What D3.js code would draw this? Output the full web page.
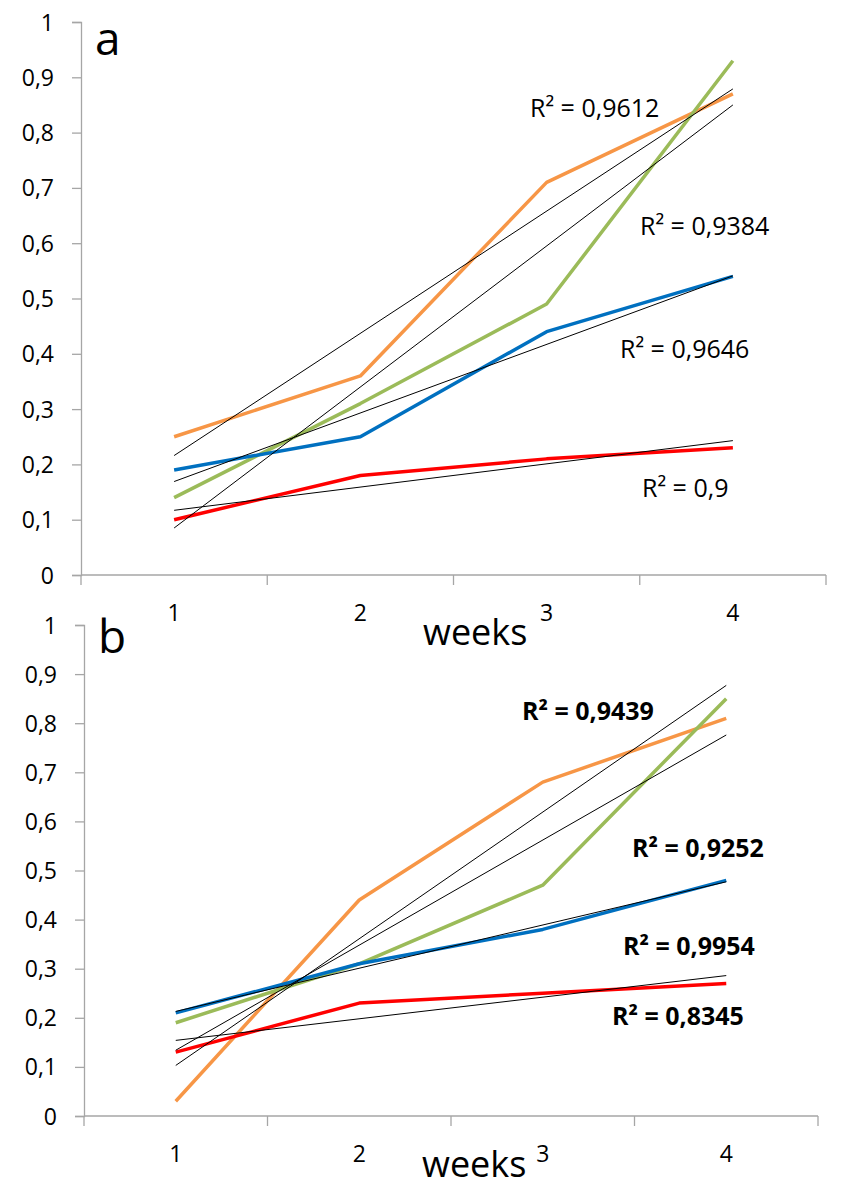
<!DOCTYPE html>
<html lang="en">
<head>
<meta charset="UTF-8">
<title>Weekly growth with linear trends</title>
<script src="https://cdn.jsdelivr.net/npm/d3@7/dist/d3.min.js"></script>
<style>
    body { margin: 0; background: #fff; }
    svg { display: block; font-family: "Open Sans", sans-serif; }
    .axis path, .axis line { stroke: #a6a6a6; stroke-width: 1.3px; }
    .axis text { fill: #000; font-size: 23px; font-family: "Open Sans", sans-serif; }
</style>
</head>
<body>
<svg id="chart" width="847" height="1189"></svg>
<script>
    // data
    var weeks = [1, 2, 3, 4];
    var yTicks = [0, 0.1, 0.2, 0.3, 0.4, 0.5, 0.6, 0.7, 0.8, 0.9, 1];

    // panel a
    var aOrange = [0.25, 0.36, 0.71, 0.87];
    var aGreen = [0.14, 0.31, 0.49, 0.93];
    var aBlue = [0.19, 0.25, 0.44, 0.54];
    var aRed = [0.10, 0.18, 0.21, 0.23];
    var aLabels = ["R² = 0,9612", "R² = 0,9384", "R² = 0,9646", "R² = 0,9"];

    // panel b
    var bOrange = [0.03, 0.44, 0.68, 0.81];
    var bGreen = [0.19, 0.31, 0.47, 0.85];
    var bBlue = [0.21, 0.31, 0.38, 0.48];
    var bRed = [0.13, 0.23, 0.25, 0.27];
    var bLabels = ["R² = 0,9439", "R² = 0,9252", "R² = 0,9954", "R² = 0,8345"];

    var colors = { orange: "#f79646", green: "#9bbb59", blue: "#0070c0", red: "#ff0000" };

    var comma = d3.formatLocale({ decimal: ",", thousands: ".", grouping: [3], currency: ["", ""] }).format("~g");

    var panels = [
        {
            letter: "a", left: 81, right: 826, top: 22, bottom: 575, bold: false,
            letterPos: [95, 55], weeksPos: [423, 645],
            series: [[aOrange, colors.orange], [aGreen, colors.green], [aBlue, colors.blue], [aRed, colors.red]],
            labels: aLabels,
            labelPos: [[530, 117], [640, 235], [620, 358], [642, 497]]
        },
        {
            letter: "b", left: 84, right: 818, top: 625, bottom: 1116, bold: true,
            letterPos: [98, 653], weeksPos: [422, 1177],
            series: [[bOrange, colors.orange], [bGreen, colors.green], [bBlue, colors.blue], [bRed, colors.red]],
            labels: bLabels,
            labelPos: [[522, 720], [632, 857], [623, 955], [612, 1025]]
        }
    ];

    var svg = d3.select("#chart");

    function fit(values) {
        var mx = d3.mean(weeks), my = d3.mean(values);
        var num = d3.sum(weeks, function (w, i) { return (w - mx) * (values[i] - my); });
        var den = d3.sum(weeks, function (w) { return (w - mx) * (w - mx); });
        var slope = num / den;
        return function (w) { return my + slope * (w - mx); };
    }

    panels.forEach(function (p) {
        var g = svg.append("g");

        var x = d3.scaleBand().domain(weeks).range([p.left, p.right]).paddingInner(0).paddingOuter(0);
        var cx = function (w) { return x(w) + x.bandwidth() / 2; };
        var y = d3.scaleLinear().domain([0, 1]).range([p.bottom, p.top]);

        // y axis
        g.append("g")
            .attr("class", "axis")
            .attr("transform", "translate(" + p.left + ",0)")
            .call(d3.axisLeft(y).tickValues(yTicks).tickSize(9).tickPadding(18).tickFormat(comma))
            .call(function (a) { a.selectAll("text").attr("dy", "0.35em"); });

        // x axis: ticks between categories, labels at centres
        var xa = g.append("g").attr("class", "axis");
        xa.append("line")
            .attr("x1", p.left).attr("x2", p.right)
            .attr("y1", p.bottom).attr("y2", p.bottom);
        xa.selectAll(".bound")
            .data(weeks.map(function (w) { return x(w); }).concat([p.right]))
            .enter().append("line")
            .attr("x1", function (d) { return d; }).attr("x2", function (d) { return d; })
            .attr("y1", p.bottom).attr("y2", p.bottom + 10);
        xa.selectAll(".lbl")
            .data(weeks)
            .enter().append("text")
            .attr("x", cx)
            .attr("y", p.bottom + 46)
            .attr("text-anchor", "middle")
            .text(function (d) { return d; });

        g.append("text")
            .attr("x", p.weeksPos[0]).attr("y", p.weeksPos[1])
            .style("font-size", "36px")
            .text("weeks");

        g.append("text")
            .attr("x", p.letterPos[0]).attr("y", p.letterPos[1])
            .style("font-size", "46px")
            .text(p.letter);

        var line = d3.line()
            .x(function (d, i) { return cx(weeks[i]); })
            .y(function (d) { return y(d); });

        p.series.forEach(function (s) {
            g.append("path")
                .attr("d", line(s[0]))
                .attr("fill", "none")
                .attr("stroke", s[1])
                .attr("stroke-width", 3.5)
                .attr("stroke-linejoin", "round");
        });

        // linear trend lines
        p.series.forEach(function (s) {
            var f = fit(s[0]);
            g.append("line")
                .attr("x1", cx(weeks[0])).attr("y1", y(f(weeks[0])))
                .attr("x2", cx(weeks[weeks.length - 1])).attr("y2", y(f(weeks[weeks.length - 1])))
                .attr("stroke", "#000")
                .attr("stroke-width", 1);
        });

        p.labels.forEach(function (t, i) {
            g.append("text")
                .attr("x", p.labelPos[i][0]).attr("y", p.labelPos[i][1])
                .style("font-size", "25px")
                .style("font-weight", p.bold ? "bold" : "normal")
                .text(t);
        });
    });
</script>
</body>
</html>
